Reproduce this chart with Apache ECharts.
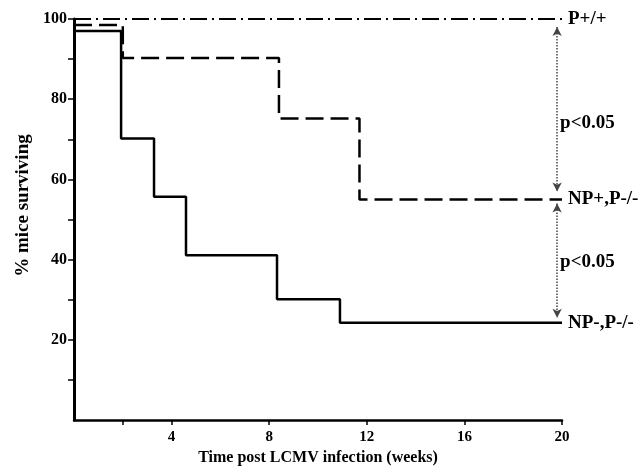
<!DOCTYPE html>
<html>
<head>
<meta charset="utf-8">
<script src="https://cdn.jsdelivr.net/npm/echarts@6.0.0/dist/echarts.min.js"></script>
<style>
  html, body { margin: 0; padding: 0; background: #fff; }
  #chart { width: 642px; height: 471px; }
</style>
</head>
<body>
<div id="chart"></div>
<script>
// survival curves (weeks, % surviving)
const ppTimes = [0, 20];
const ppSurv = [100, 100];
const npPosTimes = [0, 2.0, 8.4, 11.7, 20];
const npPosSurv = [98.5, 90.3, 75.2, 55, 55];
const npNegTimes = [0, 1.93, 3.28, 4.59, 8.32, 10.9, 20];
const npNegSurv = [97, 70.2, 55.7, 41.1, 30.1, 24.3, 24.3];
const seriesNames = ['P+/+', 'NP+,P-/-', 'NP-,P-/-'];

// axes
const xTicks = [2, 4, 8, 12, 16, 20];
const xLabels = [4, 8, 12, 16, 20];
const yTicks = [10, 20, 30, 40, 50, 60, 70, 80, 90, 100];
const yLabels = [20, 40, 60, 80, 100];

// significance arrows
const arrowX = 19.8;
const arrowSpans = [[98, 57], [54, 25.5]];
const pText = ['p<0.05', 'p<0.05'];
const pTextY = [74, 39.5];

const FONT = '"Liberation Serif", "DejaVu Serif", serif';

function pairs(xs, ys) {
  return xs.map((x, i) => [x, ys[i]]);
}

function endLabel(text) {
  return {
    show: true,
    formatter: text,
    color: '#000',
    fontFamily: FONT,
    fontWeight: 'bold',
    fontSize: 19,
    distance: 6
  };
}

const chart = echarts.init(document.getElementById('chart'));

const option = {
  backgroundColor: '#fff',
  animation: false,
  grid: { left: 74, right: 80, top: 19, bottom: 49 },
  xAxis: {
    type: 'value',
    min: 0,
    max: 20,
    name: 'Time post LCMV infection (weeks)',
    nameLocation: 'middle',
    nameGap: 29,
    nameTextStyle: { color: '#000', fontFamily: FONT, fontWeight: 'bold', fontSize: 16 },
    splitLine: { show: false },
    axisLine: { onZero: false, lineStyle: { color: '#000', width: 2.5 } },
    axisTick: { customValues: xTicks, length: 5, lineStyle: { color: '#000', width: 1.5 } },
    axisLabel: {
      customValues: xLabels,
      margin: 10,
      color: '#000',
      fontFamily: FONT,
      fontWeight: 'bold',
      fontSize: 15
    }
  },
  yAxis: {
    type: 'value',
    min: 0,
    max: 100,
    name: '% mice surviving',
    nameLocation: 'middle',
    nameGap: 41,
    nameTextStyle: {
      color: '#000',
      fontFamily: FONT,
      fontWeight: 'bold',
      fontSize: 19,
      padding: [0, 0, 0, 28]
    },
    splitLine: { show: false },
    axisLine: { show: true, lineStyle: { color: '#000', width: 3 } },
    axisTick: { show: true, customValues: yTicks, length: 6, lineStyle: { color: '#000', width: 1.5 } },
    axisLabel: {
      customValues: yLabels,
      margin: 7,
      color: '#000',
      fontFamily: FONT,
      fontWeight: 'bold',
      fontSize: 16
    }
  },
  series: [
    {
      name: seriesNames[0],
      type: 'line',
      data: pairs(ppTimes, ppSurv),
      symbol: 'none',
      lineStyle: { color: '#000', width: 2, type: [17, 5, 2, 5] },
      endLabel: endLabel(seriesNames[0]),
      markLine: {
        silent: true,
        symbol: ['arrow', 'arrow'],
        symbolSize: [7, 9],
        lineStyle: { color: '#444', width: 1.5, type: 'dotted' },
        label: { show: false },
        data: arrowSpans.map(s => [{ coord: [arrowX, s[0]] }, { coord: [arrowX, s[1]] }])
      },
      markPoint: {
        silent: true,
        symbol: 'circle',
        symbolSize: 0,
        label: {
          show: true,
          position: 'right',
          distance: 3,
          color: '#000',
          fontFamily: FONT,
          fontWeight: 'bold',
          fontSize: 19,
          formatter: p => p.name
        },
        data: pText.map((t, i) => ({ name: t, coord: [arrowX, pTextY[i]] }))
      }
    },
    {
      name: seriesNames[1],
      type: 'line',
      step: 'end',
      data: pairs(npPosTimes, npPosSurv),
      symbol: 'none',
      lineStyle: { color: '#000', width: 2.5, type: [18, 7] },
      endLabel: endLabel(seriesNames[1])
    },
    {
      name: seriesNames[2],
      type: 'line',
      step: 'end',
      data: pairs(npNegTimes, npNegSurv),
      symbol: 'none',
      lineStyle: { color: '#000', width: 2.5 },
      endLabel: endLabel(seriesNames[2])
    }
  ]
};

chart.setOption(option);
</script>
</body>
</html>
